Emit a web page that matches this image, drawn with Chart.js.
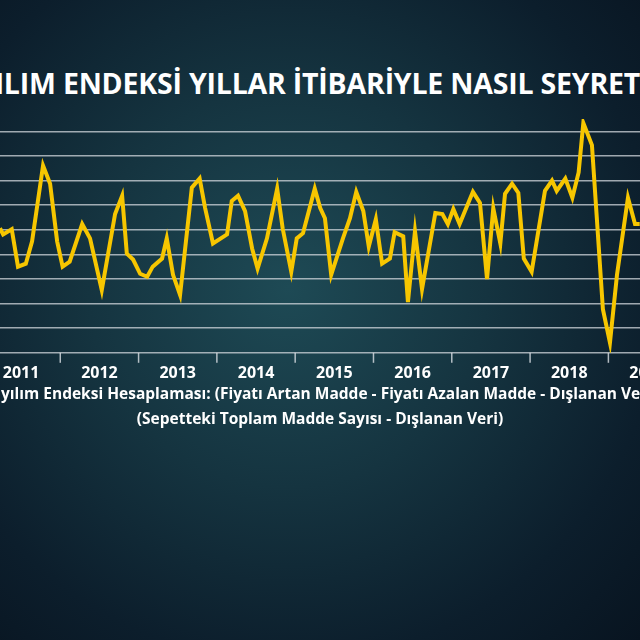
<!DOCTYPE html>
<html><head><meta charset="utf-8">
<script src="https://cdn.jsdelivr.net/npm/chart.js@4"></script>
<style>
html,body{margin:0;width:640px;height:640px;overflow:hidden;font-family:"Open Sans",sans-serif;}
body{background:radial-gradient(ellipse at 45% 45%,#1e4a55 0%,#153440 40%,#0c1e2c 75%,#081420 100%);position:relative;}
#c{position:absolute;left:-60px;top:0;}
.t{position:absolute;white-space:nowrap;color:#fff;font-weight:700;}
</style></head><body>
<div class="t" style="left:-60px;top:64px;font-size:28.5px;letter-spacing:-0.2px">YAYILIM ENDEKSİ YILLAR İTİBARİYLE NASIL SEYRETTİ?</div>
<canvas id="c" width="760" height="640"></canvas>
<div class="t" style="left:-18px;top:382px;font-size:15.5px">Yayılım Endeksi Hesaplaması: (Fiyatı Artan Madde - Fiyatı Azalan Madde - Dışlanan Veri) /</div>
<div class="t" style="left:0;width:640px;text-align:center;top:407px;font-size:15.5px">(Sepetteki Toplam Madde Sayısı - Dışlanan Veri)</div>
<script>
const dates=[2011.23,2011.27,2011.38,2011.46,2011.56,2011.64,2011.78,2011.87,2011.96,2012.03,2012.12,2012.28,2012.38,2012.53,2012.70,2012.79,2012.85,2012.93,2013.02,2013.11,2013.18,2013.30,2013.36,2013.44,2013.53,2013.68,2013.78,2013.85,2013.95,2014.13,2014.19,2014.27,2014.36,2014.45,2014.52,2014.64,2014.77,2014.84,2014.95,2015.02,2015.10,2015.25,2015.32,2015.38,2015.46,2015.61,2015.70,2015.78,2015.87,2015.94,2016.03,2016.11,2016.21,2016.27,2016.38,2016.44,2016.53,2016.62,2016.79,2016.88,2016.95,2017.02,2017.10,2017.27,2017.36,2017.45,2017.53,2017.62,2017.68,2017.77,2017.85,2017.92,2018.02,2018.19,2018.28,2018.34,2018.45,2018.54,2018.62,2018.68,2018.79,2018.93,2019.02,2019.11,2019.25,2019.34,2019.40];
const values=[5.06,4.81,5.02,3.50,3.62,4.53,7.61,6.87,4.53,3.50,3.70,5.23,4.65,2.55,5.64,6.38,4.03,3.79,3.21,3.09,3.50,3.83,4.65,3.17,2.35,6.71,7.08,5.88,4.44,4.81,6.17,6.38,5.76,4.24,3.42,4.65,6.67,5.06,3.29,4.65,4.86,6.67,5.88,5.47,3.17,4.65,5.47,6.54,5.76,4.32,5.43,3.62,3.83,4.90,4.73,2.06,4.94,2.59,5.68,5.64,5.23,5.84,5.23,6.54,6.09,3.00,5.88,4.44,6.46,6.87,6.50,3.83,3.29,6.58,7.00,6.58,7.08,6.30,7.33,9.34,8.44,1.77,0.41,3.17,6.30,5.23,5.23];
const years=[2011,2012,2013,2014,2015,2016,2017,2018,2019];
const gridLevels=[0,1,2,3,4,5,6,7,8,9];
const sep={id:'sep',afterDraw(ch){const c=ch.ctx,x=ch.scales.x,b=ch.chartArea.bottom;c.save();c.strokeStyle='rgba(220,225,230,0.8)';c.lineWidth=1.5;
years.forEach(y=>{const p=x.getPixelForValue(y);c.beginPath();c.moveTo(p,b);c.lineTo(p,b+10);c.stroke();});c.restore();}};
new Chart(document.getElementById('c'),{type:'line',
data:{datasets:[{data:dates.map((d,i)=>({x:d,y:values[i]})),borderColor:'#f7c600',borderWidth:4,pointRadius:0,tension:0,borderJoinStyle:'miter'}]},
options:{responsive:false,animation:false,layout:{padding:{left:0,right:0,top:119,bottom:254}},
plugins:{legend:{display:false},tooltip:{enabled:false}},
scales:{x:{type:'linear',min:2010.464,max:2020.17,border:{display:false},grid:{display:false},
afterBuildTicks(s){s.ticks=years.map(y=>({value:y+0.5}));},
ticks:{color:'#fff',font:{family:'Open Sans',size:16,weight:'bold'},padding:3,maxRotation:0,autoSkip:false,callback:v=>Math.floor(v)}},
y:{min:0,max:9.5,display:true,border:{display:false},afterFit(s){s.width=0;},afterBuildTicks(s){s.ticks=gridLevels.map(v=>({value:v}));},ticks:{display:false},grid:{color:'rgba(210,215,220,0.75)',lineWidth:1.5,drawTicks:false}}}},
plugins:[sep]});
</script></body></html>
